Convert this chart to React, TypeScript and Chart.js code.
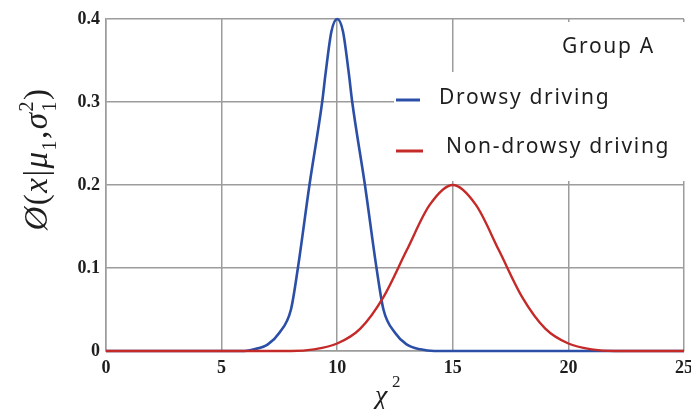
import React, { useEffect, useRef } from 'react';
import { Chart, registerables } from 'chart.js';

Chart.register(...registerables);

// ---- data ----
const seriesLabels = ['Drowsy driving', 'Non-drowsy driving'];
const seriesColors = ['#2b4fa6', '#c42a28'];
const groupLabel = 'Group A';

const drowsyX = [0, 6, 6.4, 7, 7.5, 8, 8.3, 8.8, 9.35, 9.5, 9.75, 10, 10.25, 10.5, 10.65, 11.2, 11.7, 12, 12.5, 13, 13.6, 14.2, 25];
const drowsyY = [0, 0, 0.002, 0.008, 0.022, 0.05, 0.1, 0.2, 0.3, 0.335, 0.385, 0.4, 0.385, 0.335, 0.3, 0.2, 0.1, 0.05, 0.022, 0.008, 0.002, 0, 0];

const nonDrowsyX = [0, 8, 9, 10, 11, 12, 13, 14, 15, 16, 17, 18, 19, 20, 21, 22, 25];
const nonDrowsyY = [0, 0, 0.002, 0.009, 0.027, 0.065, 0.121, 0.176, 0.2, 0.176, 0.121, 0.065, 0.027, 0.009, 0.002, 0, 0];

const xTicks = [0, 5, 10, 15, 20, 25];
const yTicks = [0, 0.1, 0.2, 0.3, 0.4];

const GRID = '#9c9c9c';
const TEXT = '#1e1e1e';

type Seg = { t: string; italic?: boolean; scale?: number; dy?: number; stackSup?: string };

const yTitleSegs: Seg[] = [
  { t: 'Ø', italic: true },
  { t: '(' },
  { t: 'x', italic: true },
  { t: '|' },
  { t: 'μ', italic: true },
  { t: '1', scale: 0.62, dy: 0.3 },
  { t: ',' },
  { t: 'σ', italic: true },
  { t: '1', scale: 0.62, dy: 0.3, stackSup: '2' },
  { t: ')' },
];

const overlayPlugin = {
  id: 'overlay',
  afterDraw(chart: any) {
    const ctx: CanvasRenderingContext2D = chart.ctx;
    ctx.save();
    // white boxes (legend + group label)
    ctx.fillStyle = '#ffffff';
    ctx.fillRect(456, 22, 240, 50);
    ctx.fillRect(394, 72, 302, 109);

    // group label
    ctx.fillStyle = TEXT;
    ctx.textBaseline = 'middle';
    ctx.textAlign = 'left';
    ctx.font = '21px "Noto Sans"';
    (ctx as any).letterSpacing = '1.7px';
    ctx.fillText(groupLabel, 562, 47);

    // legend
    const rows = [
      { mx0: 396, mx1: 420, my: 100, tx: 439, ty: 98 },
      { mx0: 396, mx1: 423, my: 151, tx: 446, ty: 147 },
    ];
    chart.data.datasets.forEach((ds: any, i: number) => {
      const r = rows[i];
      ctx.strokeStyle = ds.borderColor;
      ctx.lineWidth = 3;
      ctx.beginPath();
      ctx.moveTo(r.mx0, r.my);
      ctx.lineTo(r.mx1, r.my);
      ctx.stroke();
      ctx.fillStyle = TEXT;
      ctx.fillText(ds.label, r.tx, r.ty);
    });
    (ctx as any).letterSpacing = '0px';

    // y axis title (rotated)
    const F = 33;
    const fam = '"Liberation Serif"';
    const fontFor = (s: Seg, sc = s.scale || 1) => `${s.italic ? 'italic ' : ''}${Math.round(F * sc)}px ${fam}`;
    let total = 0;
    const widths = yTitleSegs.map((s) => {
      ctx.font = fontFor(s);
      const w = ctx.measureText(s.t).width + 1.5;
      total += w;
      return w;
    });
    ctx.translate(36, 159);
    ctx.rotate(-Math.PI / 2);
    ctx.textBaseline = 'alphabetic';
    let x = -total / 2;
    const base = F * 0.32;
    yTitleSegs.forEach((s, i) => {
      ctx.font = fontFor(s);
      ctx.fillText(s.t, x, base + (s.dy || 0) * F);
      if (s.stackSup) {
        ctx.fillText(s.stackSup, x, base - 0.42 * F);
      }
      x += widths[i];
    });
    ctx.setTransform(1, 0, 0, 1, 0, 0);

    // x axis title
    ctx.textAlign = 'left';
    ctx.textBaseline = 'alphabetic';
    ctx.font = `italic 28px ${fam}`;
    ctx.fillText('χ', 375, 404);
    ctx.font = `17px ${fam}`;
    ctx.fillText('2', 392, 387);
    ctx.restore();
  },
};

export default function App() {
  const ref = useRef<HTMLCanvasElement | null>(null);
  useEffect(() => {
    if (!ref.current) return;
    const chart = new Chart(ref.current, {
      type: 'line',
      data: {
        datasets: [
          {
            label: seriesLabels[0],
            data: drowsyX.map((x, i) => ({ x, y: drowsyY[i] })),
            borderColor: seriesColors[0],
            borderWidth: 2.6,
            cubicInterpolationMode: 'monotone',
            pointRadius: 0,
            fill: false,
            order: 1,
            clip: 4,
          },
          {
            label: seriesLabels[1],
            data: nonDrowsyX.map((x, i) => ({ x, y: nonDrowsyY[i] })),
            borderColor: seriesColors[1],
            borderWidth: 2.4,
            cubicInterpolationMode: 'monotone',
            pointRadius: 0,
            fill: false,
            order: 0,
            clip: 4,
          },
        ],
      },
      options: {
        responsive: false,
        animation: false,
        events: [],
        layout: { padding: { top: 19, right: 15, left: 0, bottom: 0 } },
        plugins: { legend: { display: false }, tooltip: { enabled: false } },
        scales: {
          x: {
            type: 'linear',
            min: 0,
            max: 25,
            afterBuildTicks: (s: any) => {
              s.ticks = xTicks.map((v) => ({ value: v }));
            },
            afterFit: (s: any) => {
              s.height = 58;
            },
            grid: { color: GRID, lineWidth: 1.5, drawTicks: false },
            border: { color: GRID, width: 1.5 },
            ticks: {
              padding: 7,
              color: TEXT,
              font: { family: '"Liberation Serif"', weight: 'bold', size: 18 },
              callback: (v: any) => String(v),
            },
          },
          y: {
            type: 'linear',
            min: 0,
            max: 0.4,
            afterBuildTicks: (s: any) => {
              s.ticks = yTicks.map((v) => ({ value: v }));
            },
            afterFit: (s: any) => {
              s.width = 106;
            },
            grid: { color: GRID, lineWidth: 1.5, drawTicks: false },
            border: { color: GRID, width: 1.5 },
            ticks: {
              padding: 6,
              color: TEXT,
              font: { family: '"Liberation Serif"', weight: 'bold', size: 18 },
              callback: (v: any) => String(v),
            },
          },
        },
      },
      plugins: [overlayPlugin],
    } as any);
    return () => chart.destroy();
  }, []);
  return (
    <div style={{ position: 'absolute', left: 0, top: 0, width: 691, height: 409, overflow: 'hidden', background: '#fff' }}>
      <canvas ref={ref} width={700} height={409} style={{ width: 700, height: 409, display: 'block' }} />
    </div>
  );
}
